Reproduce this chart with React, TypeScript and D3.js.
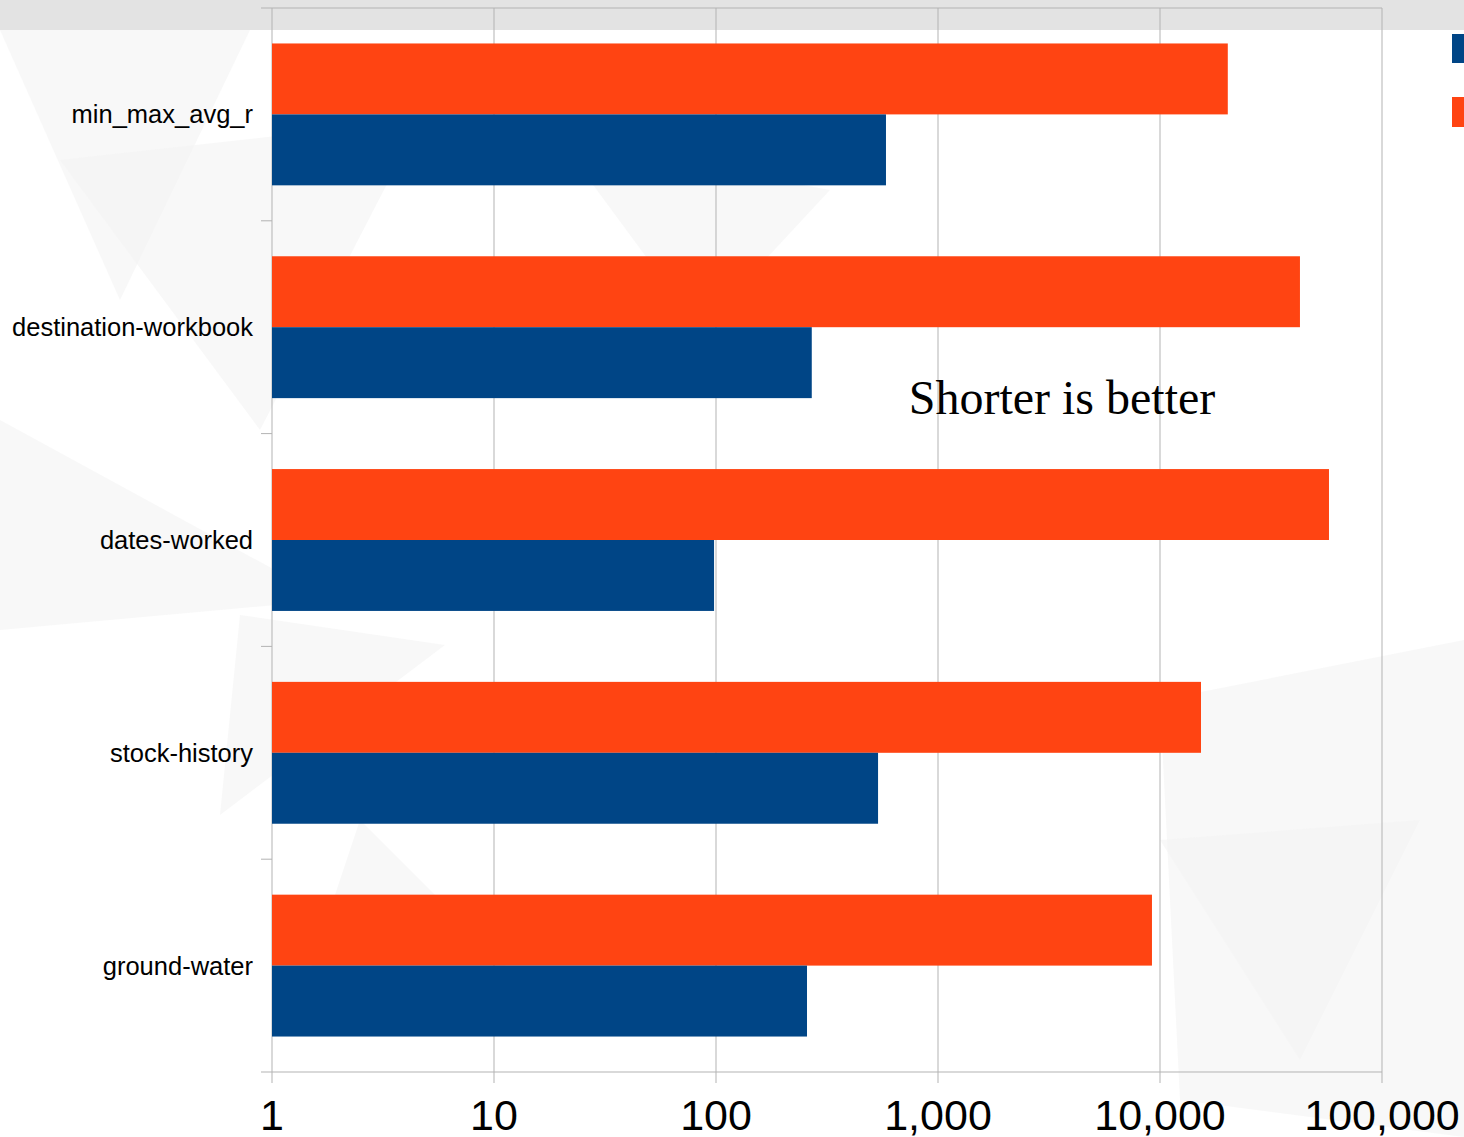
import React from "react";
import * as d3 from "d3";

const categories = ["min_max_avg_r", "destination-workbook", "dates-worked", "stock-history", "ground-water"];
const orangeValues = [20200, 42700, 57700, 15300, 9200];
const blueValues = [583, 270, 98, 537, 257];
const tickValues = [1, 10, 100, 1000, 10000, 100000];
const annotation = "Shorter is better";

const W = 1464, H = 1137;
const left = 272, right = 1382, top = 8, bottom = 1072;

export default function App() {
  const x = d3.scaleLog().domain([1, 100000]).range([left, right]);
  const y = d3.scaleBand().domain(categories).range([top, bottom]);
  const bw = y.bandwidth();
  const barH = bw / 3;
  const fmt = d3.format(",");
  const bgTris = [
    "0,30 250,30 120,300",
    "60,160 420,120 260,430",
    "0,420 330,600 0,630",
    "240,615 445,645 220,815",
    "560,140 830,190 700,330",
    "1160,700 1464,640 1464,1137 1180,1100",
    "1160,840 1420,820 1300,1060",
    "360,820 560,1020 300,1000",
  ];
  return (
    <svg width={W} height={H} style={{ position: "absolute", left: 0, top: 0, background: "#fff" }}>
      <rect x={0} y={0} width={W} height={H} fill="#ffffff" />
      {bgTris.map((p, i) => (
        <polygon key={i} points={p} fill="#f4f4f4" opacity={0.6} />
      ))}
      <rect x={0} y={0} width={W} height={30} fill="#e3e3e3" />
      {tickValues.map((t) => (
        <line key={t} x1={x(t)} x2={x(t)} y1={top} y2={bottom + 11} stroke="#b3b3b3" strokeWidth={1} />
      ))}
      <line x1={left - 11} x2={right} y1={top} y2={top} stroke="#b3b3b3" />
      <line x1={left} x2={right} y1={bottom} y2={bottom} stroke="#b3b3b3" />
      {categories.map((c, i) =>
        i > 0 ? <line key={c} x1={left - 11} x2={left} y1={y(c)!} y2={y(c)!} stroke="#b3b3b3" /> : null
      )}
      <line x1={left - 11} x2={left} y1={bottom} y2={bottom} stroke="#b3b3b3" />
      {categories.map((c, i) => (
        <g key={c}>
          <rect x={left} y={y(c)! + barH / 2} width={x(orangeValues[i]) - left} height={barH} fill="#ff4412" />
          <rect x={left} y={y(c)! + barH / 2 + barH} width={x(blueValues[i]) - left} height={barH} fill="#004586" />
          <text x={253} y={y(c)! + bw / 2} textAnchor="end" dominantBaseline="central"
            fontFamily="Liberation Sans, Arial, sans-serif" fontSize={25.5} fill="#000">{c}</text>
        </g>
      ))}
      {tickValues.map((t) => (
        <text key={t} x={x(t)} y={1130} textAnchor="middle" fontFamily="Liberation Sans, Arial, sans-serif"
          fontSize={43} fill="#000">{fmt(t)}</text>
      ))}
      <text x={1062} y={414} textAnchor="middle" fontFamily="Liberation Serif, serif" fontSize={48} fill="#000">{annotation}</text>
      <rect x={1452} y={34} width={20} height={29} fill="#004586" />
      <rect x={1452} y={97} width={20} height={30} fill="#ff4412" />
    </svg>
  );
}
